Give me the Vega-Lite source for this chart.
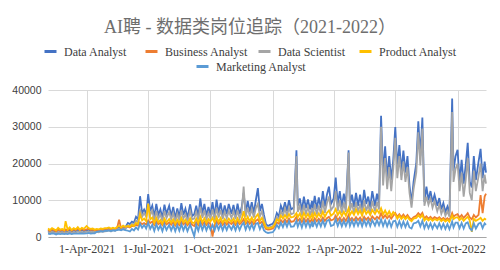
{
"$schema":"https://vega.github.io/schema/vega-lite/v6.json",
"width":438,"height":147,
"autosize":"none",
"padding":{"left":48,"top":90,"right":14,"bottom":33},
"background":"white",
"title":{"text":"AI聘 - 数据类岗位追踪（2021-2022）","anchor":"middle","fontSize":18,"font":"Liberation Serif, Noto Sans CJK SC","fontWeight":"normal","color":"#6e6e6e","dx":-17,"offset":7},
"data":{"values":[
{"d":"2021-02-03","a":1700,"b":1900,"c":1300,"p":2300,"m":900},
{"d":"2021-02-06","a":1500,"b":1600,"c":1100,"p":1900,"m":800},
{"d":"2021-02-09","a":1900,"b":2100,"c":1400,"p":2400,"m":1000},
{"d":"2021-02-12","a":1600,"b":1800,"c":1200,"p":2100,"m":900},
{"d":"2021-02-15","a":1400,"b":1500,"c":1000,"p":1800,"m":700},
{"d":"2021-02-18","a":1800,"b":2000,"c":1300,"p":2500,"m":900},
{"d":"2021-02-21","a":1600,"b":1700,"c":1200,"p":2000,"m":800},
{"d":"2021-02-24","a":1700,"b":1900,"c":1300,"p":2200,"m":900},
{"d":"2021-02-27","a":1500,"b":1600,"c":1100,"p":1900,"m":800},
{"d":"2021-03-01","a":1700,"b":2000,"c":1300,"p":4300,"m":900},
{"d":"2021-03-04","a":1600,"b":1800,"c":1200,"p":2000,"m":800},
{"d":"2021-03-07","a":1900,"b":2200,"c":1400,"p":2600,"m":1000},
{"d":"2021-03-10","a":1500,"b":1700,"c":1100,"p":1900,"m":800},
{"d":"2021-03-13","a":1800,"b":2100,"c":1300,"p":2400,"m":900},
{"d":"2021-03-16","a":1600,"b":1900,"c":1200,"p":2100,"m":900},
{"d":"2021-03-19","a":2000,"b":2300,"c":1500,"p":2700,"m":1000},
{"d":"2021-03-22","a":1700,"b":1800,"c":1300,"p":2000,"m":900},
{"d":"2021-03-25","a":1900,"b":2200,"c":1400,"p":2500,"m":1000},
{"d":"2021-03-28","a":1600,"b":1900,"c":1200,"p":2200,"m":900},
{"d":"2021-04-01","a":1800,"b":2100,"c":1400,"p":3000,"m":1000},
{"d":"2021-04-04","a":2000,"b":2300,"c":1500,"p":2400,"m":1100},
{"d":"2021-04-07","a":1700,"b":1900,"c":1300,"p":2200,"m":900},
{"d":"2021-04-10","a":1900,"b":2000,"c":1400,"p":2300,"m":1000},
{"d":"2021-04-13","a":1600,"b":1800,"c":1300,"p":2000,"m":1000},
{"d":"2021-04-16","a":1800,"b":1900,"c":1400,"p":2200,"m":1400},
{"d":"2021-04-19","a":1700,"b":1800,"c":1300,"p":2100,"m":1500},
{"d":"2021-04-22","a":1900,"b":2000,"c":1500,"p":2300,"m":1600},
{"d":"2021-04-25","a":1800,"b":1900,"c":1400,"p":2200,"m":1500},
{"d":"2021-04-28","a":2000,"b":2100,"c":1500,"p":2400,"m":1700},
{"d":"2021-05-01","a":2000,"b":2000,"c":1600,"p":2400,"m":1700},
{"d":"2021-05-04","a":2200,"b":2200,"c":1800,"p":2600,"m":1800},
{"d":"2021-05-07","a":1900,"b":1900,"c":1500,"p":2300,"m":1600},
{"d":"2021-05-10","a":2300,"b":2100,"c":1900,"p":2500,"m":1800},
{"d":"2021-05-13","a":2100,"b":2000,"c":1700,"p":2300,"m":1700},
{"d":"2021-05-16","a":2400,"b":2400,"c":2000,"p":2700,"m":1900},
{"d":"2021-05-19","a":2600,"b":4700,"c":2200,"p":3000,"m":2000},
{"d":"2021-05-22","a":2300,"b":2300,"c":1900,"p":2600,"m":1800},
{"d":"2021-05-25","a":2700,"b":2500,"c":2300,"p":3100,"m":2100},
{"d":"2021-05-28","a":2500,"b":2400,"c":2100,"p":2800,"m":1900},
{"d":"2021-06-01","a":3800,"b":2800,"c":3200,"p":3000,"m":1700},
{"d":"2021-06-04","a":3500,"b":2600,"c":3000,"p":2800,"m":1500},
{"d":"2021-06-07","a":4200,"b":3000,"c":3600,"p":3300,"m":2200},
{"d":"2021-06-10","a":3900,"b":2900,"c":3300,"p":3000,"m":1800},
{"d":"2021-06-13","a":5500,"b":3300,"c":4500,"p":3800,"m":2600},
{"d":"2021-06-16","a":4800,"b":3100,"c":4000,"p":3500,"m":2000},
{"d":"2021-06-19","a":11100,"b":4000,"c":7500,"p":6200,"m":3600},
{"d":"2021-06-22","a":6500,"b":3500,"c":5500,"p":4500,"m":2500},
{"d":"2021-06-25","a":7500,"b":3800,"c":6500,"p":5000,"m":3300},
{"d":"2021-06-28","a":6200,"b":3400,"c":5500,"p":4300,"m":2300},
{"d":"2021-07-01","a":11700,"b":4500,"c":9200,"p":9000,"m":3900},
{"d":"2021-07-04","a":7000,"b":3800,"c":6000,"p":4800,"m":2200},
{"d":"2021-07-07","a":8500,"b":4200,"c":7200,"p":5300,"m":3300},
{"d":"2021-07-10","a":5500,"b":3300,"c":4500,"p":3800,"m":1700},
{"d":"2021-07-13","a":9000,"b":4300,"c":7000,"p":5200,"m":3500},
{"d":"2021-07-16","a":6000,"b":3500,"c":5000,"p":4000,"m":2000},
{"d":"2021-07-19","a":7500,"b":3900,"c":6200,"p":4600,"m":3100},
{"d":"2021-07-22","a":5200,"b":3200,"c":4300,"p":3600,"m":1600},
{"d":"2021-07-25","a":8800,"b":4100,"c":7000,"p":5000,"m":3400},
{"d":"2021-07-28","a":6300,"b":3400,"c":5200,"p":4000,"m":1900},
{"d":"2021-08-01","a":8500,"b":4000,"c":6800,"p":4900,"m":3300},
{"d":"2021-08-04","a":5600,"b":3300,"c":4800,"p":3900,"m":1800},
{"d":"2021-08-07","a":8200,"b":4000,"c":6500,"p":4800,"m":3200},
{"d":"2021-08-10","a":5000,"b":3100,"c":4200,"p":3600,"m":1600},
{"d":"2021-08-13","a":7800,"b":3900,"c":6300,"p":4700,"m":3200},
{"d":"2021-08-16","a":5400,"b":3200,"c":4500,"p":3800,"m":1700},
{"d":"2021-08-19","a":9200,"b":4200,"c":7200,"p":5200,"m":3500},
{"d":"2021-08-22","a":6000,"b":3400,"c":5000,"p":4000,"m":1800},
{"d":"2021-08-25","a":7700,"b":3900,"c":6200,"p":4700,"m":3200},
{"d":"2021-08-28","a":5200,"b":3200,"c":4300,"p":3700,"m":1600},
{"d":"2021-09-01","a":8900,"b":4100,"c":7000,"p":5100,"m":3400},
{"d":"2021-09-04","a":5700,"b":3300,"c":4800,"p":3900,"m":1800},
{"d":"2021-09-07","a":6200,"b":3000,"c":5000,"p":3800,"m":200},
{"d":"2021-09-10","a":8500,"b":4000,"c":6800,"p":5000,"m":3300},
{"d":"2021-09-13","a":5500,"b":3200,"c":4600,"p":3800,"m":1700},
{"d":"2021-09-16","a":10500,"b":4400,"c":8200,"p":5500,"m":3700},
{"d":"2021-09-19","a":6300,"b":3400,"c":5200,"p":4000,"m":1900},
{"d":"2021-09-22","a":9000,"b":4100,"c":7200,"p":5100,"m":3400},
{"d":"2021-09-25","a":5800,"b":3300,"c":4800,"p":3900,"m":1800},
{"d":"2021-09-28","a":8200,"b":4000,"c":6500,"p":4900,"m":3300},
{"d":"2021-10-01","a":6000,"b":3500,"c":5000,"p":4200,"m":2000},
{"d":"2021-10-04","a":9500,"b":100,"c":7500,"p":5200,"m":3300},
{"d":"2021-10-07","a":5600,"b":3300,"c":4700,"p":3900,"m":1800},
{"d":"2021-10-10","a":10200,"b":4300,"c":7900,"p":5400,"m":3500},
{"d":"2021-10-13","a":6400,"b":3500,"c":5300,"p":4100,"m":2000},
{"d":"2021-10-16","a":9300,"b":4200,"c":7300,"p":5200,"m":3400},
{"d":"2021-10-19","a":5900,"b":3300,"c":4900,"p":3900,"m":1800},
{"d":"2021-10-22","a":8600,"b":4000,"c":6900,"p":4900,"m":3300},
{"d":"2021-10-25","a":6200,"b":3400,"c":5100,"p":4000,"m":1900},
{"d":"2021-10-28","a":9000,"b":4100,"c":7100,"p":5000,"m":3300},
{"d":"2021-11-01","a":6300,"b":3500,"c":5200,"p":4100,"m":2000},
{"d":"2021-11-04","a":8700,"b":4100,"c":7000,"p":5000,"m":3300},
{"d":"2021-11-07","a":5800,"b":3300,"c":4800,"p":3900,"m":1800},
{"d":"2021-11-10","a":9100,"b":4200,"c":7200,"p":5100,"m":3400},
{"d":"2021-11-13","a":6200,"b":3500,"c":5100,"p":4000,"m":1900},
{"d":"2021-11-16","a":8000,"b":4000,"c":6500,"p":4800,"m":3200},
{"d":"2021-11-19","a":12000,"b":4800,"c":13700,"p":7000,"m":3900},
{"d":"2021-11-22","a":6500,"b":3600,"c":5500,"p":4200,"m":2000},
{"d":"2021-11-25","a":9800,"b":4300,"c":8000,"p":5500,"m":3500},
{"d":"2021-11-28","a":6800,"b":3600,"c":5600,"p":4300,"m":2100},
{"d":"2021-12-01","a":9500,"b":4300,"c":7600,"p":5300,"m":3500},
{"d":"2021-12-04","a":6500,"b":3500,"c":5300,"p":4200,"m":2000},
{"d":"2021-12-07","a":10000,"b":4400,"c":7800,"p":5500,"m":3600},
{"d":"2021-12-10","a":13300,"b":4800,"c":9000,"p":6200,"m":3800},
{"d":"2021-12-13","a":7000,"b":3700,"c":5600,"p":4400,"m":2100},
{"d":"2021-12-16","a":9000,"b":4200,"c":7000,"p":5200,"m":3400},
{"d":"2021-12-19","a":6000,"b":3200,"c":4800,"p":3900,"m":1800},
{"d":"2021-12-22","a":3500,"b":2200,"c":2800,"p":2600,"m":1300},
{"d":"2021-12-25","a":3000,"b":2000,"c":2500,"p":2400,"m":1100},
{"d":"2021-12-28","a":3300,"b":2100,"c":2700,"p":2500,"m":1200},
{"d":"2022-01-01","a":3600,"b":2300,"c":2900,"p":2700,"m":1300},
{"d":"2022-01-04","a":4500,"b":3000,"c":3800,"p":3500,"m":2000},
{"d":"2022-01-07","a":6500,"b":4000,"c":5500,"p":4800,"m":3300},
{"d":"2022-01-10","a":5500,"b":3600,"c":4600,"p":4300,"m":2400},
{"d":"2022-01-13","a":8500,"b":4600,"c":7000,"p":5800,"m":3900},
{"d":"2022-01-16","a":7000,"b":4000,"c":5800,"p":5000,"m":2700},
{"d":"2022-01-19","a":9500,"b":4800,"c":7800,"p":6000,"m":4200},
{"d":"2022-01-22","a":7000,"b":4000,"c":5800,"p":5100,"m":2800},
{"d":"2022-01-25","a":10000,"b":5000,"c":8000,"p":6200,"m":4300},
{"d":"2022-01-28","a":7500,"b":4100,"c":6200,"p":5300,"m":2800},
{"d":"2022-02-01","a":8000,"b":4300,"c":6500,"p":5500,"m":2900},
{"d":"2022-02-05","a":23600,"b":5500,"c":22000,"p":6500,"m":4400},
{"d":"2022-02-07","a":8500,"b":4400,"c":6800,"p":5400,"m":2800},
{"d":"2022-02-10","a":10500,"b":5000,"c":8500,"p":6400,"m":4300},
{"d":"2022-02-13","a":7200,"b":4100,"c":5800,"p":5000,"m":2600},
{"d":"2022-02-16","a":11000,"b":5100,"c":8700,"p":6600,"m":4400},
{"d":"2022-02-19","a":7800,"b":4200,"c":6300,"p":5300,"m":2800},
{"d":"2022-02-22","a":10200,"b":5000,"c":8200,"p":6300,"m":4300},
{"d":"2022-02-25","a":7500,"b":4100,"c":6000,"p":5100,"m":2700},
{"d":"2022-02-28","a":9800,"b":4900,"c":7900,"p":6200,"m":4200},
{"d":"2022-03-01","a":7200,"b":4100,"c":5800,"p":5100,"m":2700},
{"d":"2022-03-04","a":11200,"b":5100,"c":8900,"p":6500,"m":4300},
{"d":"2022-03-07","a":7600,"b":4300,"c":6100,"p":5300,"m":2800},
{"d":"2022-03-10","a":10800,"b":5000,"c":8600,"p":6400,"m":4300},
{"d":"2022-03-13","a":7900,"b":4300,"c":6300,"p":5400,"m":2900},
{"d":"2022-03-16","a":12500,"b":5300,"c":9800,"p":6900,"m":4500},
{"d":"2022-03-19","a":8300,"b":4400,"c":6600,"p":5500,"m":2900},
{"d":"2022-03-22","a":11500,"b":5100,"c":9200,"p":6600,"m":4400},
{"d":"2022-03-25","a":13700,"b":5500,"c":11000,"p":7200,"m":4700},
{"d":"2022-03-28","a":9000,"b":4500,"c":7300,"p":5800,"m":3000},
{"d":"2022-04-01","a":10500,"b":4800,"c":8400,"p":6400,"m":3300},
{"d":"2022-04-04","a":16200,"b":5800,"c":12500,"p":7600,"m":4800},
{"d":"2022-04-07","a":8800,"b":4500,"c":7000,"p":6000,"m":3000},
{"d":"2022-04-10","a":12500,"b":5300,"c":10000,"p":7000,"m":4500},
{"d":"2022-04-13","a":8200,"b":4300,"c":6600,"p":5700,"m":2900},
{"d":"2022-04-16","a":11800,"b":5200,"c":9400,"p":6900,"m":4400},
{"d":"2022-04-19","a":8500,"b":4400,"c":6800,"p":5800,"m":3000},
{"d":"2022-04-23","a":23600,"b":6000,"c":23000,"p":7800,"m":4900},
{"d":"2022-04-25","a":9000,"b":4500,"c":7200,"p":6000,"m":3000},
{"d":"2022-04-28","a":11500,"b":5200,"c":9200,"p":7000,"m":4500},
{"d":"2022-05-01","a":8200,"b":4500,"c":6500,"p":6000,"m":3000},
{"d":"2022-05-04","a":12000,"b":5400,"c":9500,"p":7500,"m":4600},
{"d":"2022-05-07","a":8500,"b":4600,"c":6800,"p":6200,"m":3100},
{"d":"2022-05-10","a":11500,"b":5300,"c":9000,"p":7200,"m":4500},
{"d":"2022-05-13","a":7800,"b":4400,"c":6200,"p":5800,"m":2900},
{"d":"2022-05-16","a":12800,"b":5500,"c":10000,"p":7600,"m":4600},
{"d":"2022-05-19","a":9000,"b":4700,"c":7100,"p":6300,"m":3100},
{"d":"2022-05-22","a":11000,"b":5300,"c":8800,"p":7100,"m":4500},
{"d":"2022-05-25","a":8000,"b":4500,"c":6400,"p":6000,"m":3000},
{"d":"2022-05-28","a":12500,"b":5600,"c":9800,"p":7400,"m":4600},
{"d":"2022-06-01","a":8500,"b":4800,"c":7000,"p":6300,"m":3100},
{"d":"2022-06-04","a":11800,"b":5500,"c":9500,"p":7400,"m":4600},
{"d":"2022-06-07","a":9000,"b":5000,"c":7500,"p":6500,"m":3200},
{"d":"2022-06-10","a":33000,"b":6500,"c":30000,"p":7800,"m":4800},
{"d":"2022-06-13","a":17000,"b":5200,"c":14000,"p":6200,"m":3000},
{"d":"2022-06-16","a":24700,"b":5900,"c":21500,"p":7200,"m":4500},
{"d":"2022-06-19","a":16000,"b":5100,"c":13000,"p":6000,"m":2900},
{"d":"2022-06-22","a":22000,"b":5800,"c":19000,"p":7000,"m":4400},
{"d":"2022-06-25","a":15500,"b":5000,"c":12500,"p":5800,"m":2800},
{"d":"2022-06-28","a":21000,"b":5800,"c":18500,"p":6800,"m":4300},
{"d":"2022-07-01","a":29900,"b":6500,"c":27000,"p":6200,"m":4400},
{"d":"2022-07-04","a":19000,"b":5500,"c":16000,"p":5000,"m":2800},
{"d":"2022-07-07","a":25000,"b":6200,"c":22000,"p":5800,"m":4300},
{"d":"2022-07-10","a":18000,"b":5400,"c":15500,"p":4900,"m":2700},
{"d":"2022-07-13","a":23500,"b":6100,"c":20500,"p":5600,"m":4200},
{"d":"2022-07-16","a":17500,"b":5300,"c":15000,"p":4800,"m":2700},
{"d":"2022-07-19","a":22000,"b":6000,"c":19000,"p":5500,"m":4100},
{"d":"2022-07-22","a":14000,"b":5200,"c":12000,"p":4700,"m":2600},
{"d":"2022-07-25","a":9200,"b":4800,"c":8000,"p":4300,"m":2300},
{"d":"2022-07-28","a":15000,"b":5400,"c":13000,"p":5000,"m":3700},
{"d":"2022-08-01","a":20000,"b":5800,"c":17500,"p":5200,"m":3900},
{"d":"2022-08-04","a":31500,"b":6500,"c":28500,"p":5900,"m":4400},
{"d":"2022-08-07","a":22000,"b":5900,"c":19500,"p":5300,"m":2900},
{"d":"2022-08-10","a":32500,"b":6600,"c":29500,"p":6000,"m":4400},
{"d":"2022-08-13","a":9500,"b":5000,"c":8500,"p":4500,"m":2400},
{"d":"2022-08-16","a":13700,"b":5600,"c":11000,"p":5100,"m":3800},
{"d":"2022-08-19","a":10000,"b":5000,"c":8800,"p":4500,"m":2400},
{"d":"2022-08-22","a":12500,"b":5500,"c":10500,"p":5000,"m":3700},
{"d":"2022-08-25","a":9500,"b":4900,"c":8000,"p":4400,"m":2300},
{"d":"2022-08-28","a":11500,"b":5400,"c":9800,"p":4900,"m":3600},
{"d":"2022-09-01","a":8500,"b":5000,"c":7000,"p":4500,"m":2400},
{"d":"2022-09-04","a":10600,"b":5400,"c":8800,"p":5000,"m":3700},
{"d":"2022-09-07","a":7500,"b":4800,"c":6300,"p":4300,"m":2300},
{"d":"2022-09-10","a":9200,"b":5200,"c":7800,"p":4800,"m":3600},
{"d":"2022-09-13","a":6800,"b":4700,"c":5800,"p":4200,"m":2200},
{"d":"2022-09-16","a":8300,"b":5100,"c":7000,"p":4700,"m":3500},
{"d":"2022-09-19","a":6500,"b":4600,"c":5500,"p":4100,"m":2100},
{"d":"2022-09-23","a":37700,"b":6500,"c":34000,"p":5800,"m":4200},
{"d":"2022-09-25","a":18000,"b":5500,"c":15000,"p":4900,"m":2600},
{"d":"2022-09-28","a":22000,"b":6000,"c":18500,"p":5300,"m":3900},
{"d":"2022-10-01","a":23700,"b":6200,"c":20000,"p":5400,"m":3900},
{"d":"2022-10-04","a":15000,"b":5300,"c":12500,"p":4600,"m":2400},
{"d":"2022-10-07","a":21000,"b":6000,"c":17500,"p":5200,"m":3800},
{"d":"2022-10-10","a":14500,"b":5200,"c":11000,"p":4400,"m":2300},
{"d":"2022-10-13","a":19500,"b":5800,"c":15500,"p":5000,"m":3700},
{"d":"2022-10-16","a":25600,"b":6500,"c":21500,"p":5500,"m":4000},
{"d":"2022-10-19","a":15000,"b":5300,"c":12000,"p":4500,"m":2400},
{"d":"2022-10-22","a":13500,"b":4800,"c":10000,"p":1400,"m":1800},
{"d":"2022-10-25","a":22000,"b":6000,"c":18000,"p":5000,"m":3700},
{"d":"2022-10-28","a":15500,"b":5300,"c":12500,"p":4400,"m":2300},
{"d":"2022-11-01","a":20500,"b":6000,"c":16500,"p":4800,"m":3600},
{"d":"2022-11-04","a":24000,"b":11400,"c":20000,"p":5200,"m":3900},
{"d":"2022-11-07","a":16000,"b":6500,"c":12500,"p":4400,"m":2400},
{"d":"2022-11-10","a":20500,"b":11000,"c":17000,"p":5000,"m":3700},
{"d":"2022-11-12","a":17500,"b":11800,"c":14500,"p":4700,"m":3300}
]},
"encoding":{
"x":{"field":"d","type":"temporal","title":null,
"scale":{"domain":[{"year":2021,"month":2,"date":3},{"year":2022,"month":11,"date":12}]},
"axis":{"values":[{"year":2021,"month":4,"date":1},{"year":2021,"month":7,"date":1},{"year":2021,"month":10,"date":1},{"year":2022,"month":1,"date":1},{"year":2022,"month":4,"date":1},{"year":2022,"month":7,"date":1},{"year":2022,"month":10,"date":1}],
"format":"%-d-%b-%Y","grid":true,"gridColor":"#d9d9d9","ticks":false,"domain":true,"domainColor":"#a6a6a6","labelFont":"Liberation Serif","labelFontSize":12,"labelColor":"#404040","labelPadding":6,"labelFlush":false,"labelOverlap":false}}
},
"layer":[
{"mark":{"type":"line","strokeWidth":1.8},"encoding":{"y":{"field":"a","type":"quantitative","title":null,"scale":{"domain":[0,40000]}},"color":{"datum":"Data Analyst","scale":{"range":["#4472C4"]},"legend":{"orient":"none","legendX":-5,"legendY":-46,"title":null}}}},
{"mark":{"type":"line","strokeWidth":1.8},"encoding":{"y":{"field":"b","type":"quantitative","title":null,"scale":{"domain":[0,40000]}},"color":{"datum":"Business Analyst","scale":{"range":["#ED7D31"]},"legend":{"orient":"none","legendX":96,"legendY":-46,"title":null}}}},
{"mark":{"type":"line","strokeWidth":1.8},"encoding":{"y":{"field":"c","type":"quantitative","title":null,"scale":{"domain":[0,40000]}},"color":{"datum":"Data Scientist","scale":{"range":["#A5A5A5"]},"legend":{"orient":"none","legendX":209,"legendY":-46,"title":null}}}},
{"mark":{"type":"line","strokeWidth":1.8},"encoding":{"y":{"field":"p","type":"quantitative","title":null,"scale":{"domain":[0,40000]}},"color":{"datum":"Product Analyst","scale":{"range":["#FFC000"]},"legend":{"orient":"none","legendX":310,"legendY":-46,"title":null}}}},
{"mark":{"type":"line","strokeWidth":1.8},"encoding":{"y":{"field":"m","type":"quantitative","title":null,"scale":{"domain":[0,40000]}},"color":{"datum":"Marketing Analyst","scale":{"range":["#5B9BD5"]},"legend":{"orient":"none","legendX":147,"legendY":-31,"title":null}}}}
],
"resolve":{"scale":{"color":"independent"}},
"config":{
"view":{"stroke":null},
"axisY":{"grid":true,"gridColor":"#d9d9d9","domain":false,"ticks":false,"labelFont":"Liberation Sans","labelFontSize":10.5,"labelColor":"#404040","labelPadding":7,"tickCount":4,"format":"d"},
"legend":{"symbolType":"stroke","symbolStrokeWidth":3,"symbolSize":144,"labelFont":"Liberation Serif","labelFontSize":12,"labelColor":"#404040","labelOffset":6,"padding":0}
}
}
